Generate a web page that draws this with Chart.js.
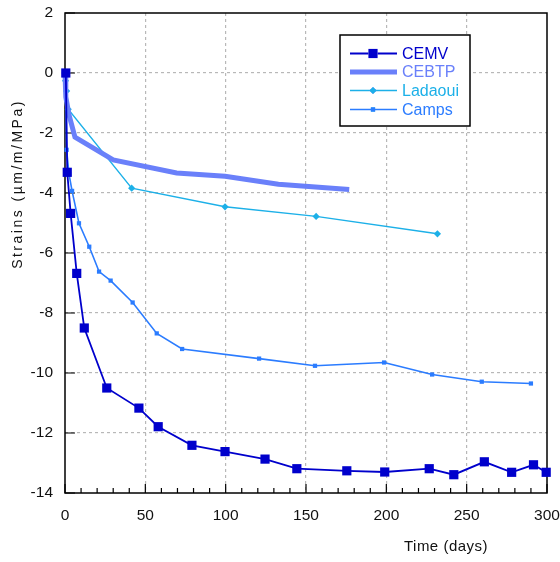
<!DOCTYPE html>
<html>
<head>
<meta charset="utf-8">
<script src="https://cdn.jsdelivr.net/npm/chart.js@4.4.1/dist/chart.umd.min.js"></script>
<style>
  html, body { margin: 0; padding: 0; background: #fff; }
  #wrap { width: 560px; height: 562px; position: relative; }
</style>
</head>
<body>
<div id="wrap"><canvas id="chart"></canvas></div>
<script>
// values (time in days, strain in µm/m/MPa)
const cemvDays = [0.5, 1.4, 3.5, 7.3, 12, 26, 46, 58, 79, 99.6, 124.5, 144.3, 175.4, 199, 226.7, 242, 261, 278, 291.6, 299.5];
const cemvStrain = [0, -3.31, -4.68, -6.68, -8.5, -10.5, -11.17, -11.79, -12.41, -12.62, -12.87, -13.19, -13.26, -13.3, -13.19, -13.39, -12.96, -13.31, -13.06, -13.31];

const cebtpDays = [0, 0.5, 2.5, 6.2, 30, 69.5, 99.6, 132.8, 176.9];
const cebtpStrain = [0, -0.8, -1.4, -2.14, -2.9, -3.33, -3.44, -3.71, -3.88];

const ladaouiDays = [0, 0.3, 1, 2, 41.5, 99.6, 156.3, 231.8];
const ladaouiStrain = [0, -0.26, -0.6, -1.21, -3.84, -4.46, -4.78, -5.36];

const campsDays = [0.5, 1, 2.5, 4.4, 8.7, 15.1, 21.2, 28.4, 42.1, 57.1, 72.9, 120.8, 155.6, 198.6, 228.5, 259.4, 290];
const campsStrain = [0, -2.56, -3.37, -3.93, -5.01, -5.79, -6.62, -6.92, -7.65, -8.68, -9.2, -9.52, -9.76, -9.65, -10.05, -10.29, -10.35];

const xTicks = [0, 50, 100, 150, 200, 250, 300];
const yTicks = [2, 0, -2, -4, -6, -8, -10, -12, -14];

const FONT = "'Liberation Sans', Arial, sans-serif";

const toPoints = (xs, ys) => xs.map((x, i) => ({ x: x, y: ys[i] }));

const series = [
    { label: "CEMV", color: "#0000cc", width: 1.8, style: "rect", radius: 6.5, data: toPoints(cemvDays, cemvStrain) },
    { label: "CEBTP", color: "#6a80fa", width: 5, style: "circle", radius: 0, data: toPoints(cebtpDays, cebtpStrain) },
    { label: "Ladaoui", color: "#1cb0e8", width: 1.4, style: "rectRot", radius: 3.6, data: toPoints(ladaouiDays, ladaouiStrain) },
    { label: "Camps", color: "#2b7cff", width: 1.6, style: "rect", radius: 3, data: toPoints(campsDays, campsStrain) },
];

// frame, inward ticks, legend and axis titles
const decorations = {
    id: "decorations",
    beforeDatasetsDraw(chart) {
        const { ctx, chartArea: a } = chart;
        const xs = chart.scales.x, ys = chart.scales.y;
        ctx.save();
        ctx.strokeStyle = "#000";
        ctx.lineWidth = 1.5;
        ctx.strokeRect(a.left, a.top, a.right - a.left, a.bottom - a.top);
        ctx.lineWidth = 1.2;
        ctx.beginPath();
        for (let d = 0; d <= 300; d += 10) {
            const px = xs.getPixelForValue(d);
            const len = d % 50 === 0 ? 9 : 5;
            ctx.moveTo(px, a.bottom);
            ctx.lineTo(px, a.bottom - len);
        }
        yTicks.forEach(v => {
            const py = ys.getPixelForValue(v);
            ctx.moveTo(a.left, py);
            ctx.lineTo(a.left + 10, py);
        });
        ctx.stroke();
        ctx.restore();
    },
    afterDraw(chart) {
        const { ctx } = chart;
        ctx.save();
        ctx.fillStyle = "#111";
        ctx.font = "15px " + FONT;
        ctx.textAlign = "center";
        ctx.textBaseline = "middle";
        ctx.letterSpacing = "0.5px";
        ctx.fillText("Time (days)", 446, 547);
        ctx.translate(18, 184);
        ctx.rotate(-Math.PI / 2);
        ctx.font = "14px " + FONT;
        ctx.letterSpacing = "2.5px";
        ctx.fillText("Strains (µm/m/MPa)", 0, 0);
        ctx.letterSpacing = "0px";
        ctx.restore();

        // legend box
        const bx = 340, by = 35, bw = 130, bh = 91;
        ctx.save();
        ctx.letterSpacing = "0px";
        ctx.fillStyle = "#fff";
        ctx.fillRect(bx, by, bw, bh);
        ctx.strokeStyle = "#000";
        ctx.lineWidth = 1.5;
        ctx.strokeRect(bx, by, bw, bh);
        const rows = [53.5, 72, 90.5, 109.5];
        series.forEach((s, i) => {
            const y = rows[i];
            ctx.strokeStyle = s.color;
            ctx.lineWidth = s.width;
            ctx.beginPath();
            ctx.moveTo(350, y);
            ctx.lineTo(397, y);
            ctx.stroke();
            if (s.radius > 0) {
                Chart.helpers.drawPoint(ctx, {
                    pointStyle: s.style, radius: s.radius, rotation: 0, borderWidth: 0
                }, 373, y);
                ctx.fillStyle = s.color;
                ctx.fill();
            }
            ctx.fillStyle = s.color;
            ctx.font = "16px " + FONT;
            ctx.textAlign = "left";
            ctx.textBaseline = "middle";
            ctx.fillText(s.label, 402, y + 1);
        });
        ctx.restore();
    }
};

const noEdgePadding = scale => {
    scale.paddingTop = 0;
    scale.paddingBottom = 0;
    scale.paddingLeft = 0;
    scale.paddingRight = 0;
};

const chartCanvas = document.getElementById("chart").getContext("2d");

new Chart(chartCanvas, {
    type: "scatter",
    data: {
        datasets: series.map(s => ({
            label: s.label,
            data: s.data,
            showLine: true,
            borderColor: s.color,
            backgroundColor: s.color,
            borderWidth: s.width,
            pointStyle: s.style,
            pointRadius: s.radius,
            pointBorderWidth: 0,
            pointBackgroundColor: s.color,
            tension: 0,
            clip: false,
        })),
    },
    options: {
        responsive: true,
        maintainAspectRatio: false,
        animation: false,
        layout: { padding: { top: 13, right: 13, left: 0, bottom: 0 } },
        plugins: {
            legend: { display: false },
            tooltip: { enabled: false },
        },
        scales: {
            x: {
                type: "linear",
                min: 0,
                max: 300,
                afterFit: scale => { scale.height = 69; noEdgePadding(scale); },
                afterBuildTicks: scale => { scale.ticks = xTicks.map(v => ({ value: v })); },
                ticks: {
                    padding: 13,
                    color: "#111",
                    font: { family: FONT, size: 15.5 },
                    maxRotation: 0,
                },
                grid: {
                    drawTicks: false,
                    lineWidth: 1.2,
                    color: ctx => (ctx.tick && (ctx.tick.value === 0 || ctx.tick.value === 300)) ? "rgba(0,0,0,0)" : "#b8b8b8",
                },
                border: { display: false, dash: [3, 3] },
            },
            y: {
                type: "linear",
                min: -14,
                max: 2,
                afterFit: scale => { scale.width = 65; noEdgePadding(scale); },
                afterBuildTicks: scale => { scale.ticks = yTicks.map(v => ({ value: v })); },
                ticks: {
                    padding: 12,
                    color: "#111",
                    font: { family: FONT, size: 15.5 },
                },
                grid: {
                    drawTicks: false,
                    lineWidth: 1.2,
                    color: ctx => (ctx.tick && (ctx.tick.value === 2 || ctx.tick.value === -14)) ? "rgba(0,0,0,0)" : "#b8b8b8",
                },
                border: { display: false, dash: [3, 3] },
            },
        },
    },
    plugins: [decorations],
});
</script>
</body>
</html>
